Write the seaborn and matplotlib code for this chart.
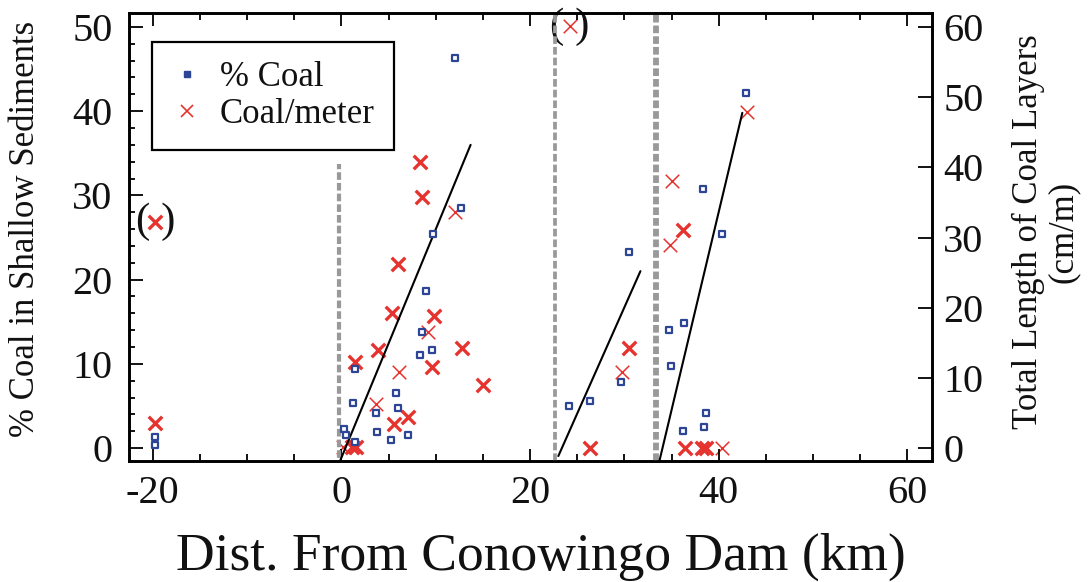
import numpy as np
import pandas as pd
import matplotlib
matplotlib.use("Agg")
import matplotlib.pyplot as plt
from matplotlib.lines import Line2D
from matplotlib.ticker import MultipleLocator
import seaborn as sns

# ---------------- data ----------------
# % Coal in shallow sediments (left axis)
pct_coal_x = [-19.7, -19.7, 12.0, 12.7, 9.75, 9.0, 8.5, 9.6, 8.3, 1.4, 1.25, 5.8, 6.0,
              3.7, 3.8, 5.3, 7.05, 0.3, 0.5, 1.4, 24.1, 26.4, 29.6, 30.5, 34.7, 36.3,
              34.9, 38.3, 40.3, 42.9, 38.6, 38.4, 36.2]
pct_coal_y = [1.35, 0.4, 46.3, 28.5, 25.4, 18.6, 13.8, 11.6, 11.0, 9.4, 5.4, 6.5, 4.8,
              4.2, 1.9, 0.9, 1.5, 2.3, 1.55, 0.7, 5.0, 5.6, 7.9, 23.3, 14.0, 14.9,
              9.7, 30.7, 25.4, 42.1, 4.2, 2.5, 2.05]

# Coal per meter (right axis, cm/m) - heavy crosses
coal_m_x = [-19.7, -19.7, 8.3, 8.6, 6.0, 5.4, 9.8, 12.8, 3.9, 1.5, 9.6, 15.0, 7.05, 5.6,
            1.1, 1.6, 26.4, 30.5, 36.2, 36.4, 38.2, 38.6]
coal_m_y = [32.2, 3.5, 40.8, 35.8, 26.2, 19.3, 18.8, 14.3, 14.0, 12.2, 11.5, 9.0, 4.4, 3.4,
            0.2, 0.1, 0.05, 14.3, 31.1, 0.0, 0.0, 0.0]
# Coal per meter - light crosses
coal_m2_x = [12.1, 9.2, 6.1, 3.7, 0.2, 24.2, 29.8, 35.0, 34.8, 43.0, 40.3]
coal_m2_y = [33.7, 16.6, 10.9, 6.3, 0.2, 60.1, 10.9, 38.0, 28.9, 47.9, 0.0]

# points shown in parentheses: (series, index)
bracketed = [("a", 0), ("b", 5)]

# linear fits per reach (left-axis units)
fit_seg = [1, 1, 2, 2, 3, 3]
fit_x = [-0.14, 13.7, 23.0, 31.7, 33.7, 42.5]
fit_y = [-1.55, 36.0, -0.95, 21.0, -1.6, 39.8]

# reach dividers (km) and their upper extent (left-axis units, None = full height)
divider_x = [-0.2, 22.6, 33.3]
divider_top = [33.7, None, None]

x_ticks = [-20, 0, 20, 40, 60]
yl_ticks = [0, 10, 20, 30, 40, 50]
yr_ticks = [0, 10, 20, 30, 40, 50, 60]

# ---------------- style ----------------
sns.set_style("ticks")
plt.rcParams["font.family"] = ["Liberation Serif", "DejaVu Serif"]
plt.rcParams["axes.unicode_minus"] = False
plt.rcParams["lines.scale_dashes"] = False
for k in ["text.color", "axes.labelcolor", "xtick.color", "ytick.color",
          "xtick.labelcolor", "ytick.labelcolor"]:
    plt.rcParams[k] = "#111111"

RED = "#e5332f"
BLUE = "#2c4595"
GRAY = "#999999"

fig = plt.figure(figsize=(10.89, 5.82), dpi=100)
ax = fig.add_axes([0.1185, 0.2079, 0.7373, 0.7698])
ax2 = ax.twinx()

df_pct = pd.DataFrame({"x": pct_coal_x, "y": pct_coal_y})
df_m = pd.DataFrame({"x": coal_m_x, "y": coal_m_y})
df_m2 = pd.DataFrame({"x": coal_m2_x, "y": coal_m2_y})
df_fit = pd.DataFrame({"seg": fit_seg, "x": fit_x, "y": fit_y})

# dividers
dash = (5.5, 2.2)
widths = [3.0, 2.7, 4.2]
for xv, top, w in zip(divider_x, divider_top, widths):
    if top is None:
        ax.axvline(xv, color=GRAY, lw=w, dashes=dash, zorder=1)
    else:
        ax.plot([xv, xv], [-5, top], color=GRAY, lw=w, dashes=dash, zorder=1)

# fit lines
for s, g in df_fit.groupby("seg"):
    sns.lineplot(data=g, x="x", y="y", ax=ax, color="black", lw=1.5,
                 estimator=None, sort=False, legend=False, zorder=3)

# blue squares
sns.scatterplot(data=df_pct, x="x", y="y", ax=ax, marker="s", s=17,
                color="white", edgecolor=BLUE, linewidth=1.6, zorder=4, legend=False)

# red crosses on right axis
sns.scatterplot(data=df_m, x="x", y="y", ax=ax2, marker="x", s=95,
                color=RED, linewidth=2.4, zorder=4, legend=False)
sns.scatterplot(data=df_m2, x="x", y="y", ax=ax2, marker="x", s=95,
                color=RED, linewidth=1.1, zorder=4, legend=False)

for series, i in bracketed:
    xs, ys = (coal_m_x, coal_m_y) if series == "a" else (coal_m2_x, coal_m2_y)
    ax2.text(xs[i], ys[i], "( )", ha="center", va="center", fontsize=31, color="#111111")

# axes limits / ticks
ax.set_xlim(-22.5, 62.6)
ax.set_ylim(-1.54, 51.66)
ax2.set_ylim(-1.85, 62.0)

ax.set_xticks(x_ticks)
ax.xaxis.set_minor_locator(MultipleLocator(5))
ax.set_yticks(yl_ticks)
ax.yaxis.set_minor_locator(MultipleLocator(2))
ax2.set_yticks(yr_ticks)
ax2.yaxis.set_minor_locator(plt.NullLocator())

ax.tick_params(axis="x", which="both", direction="in", top=True, bottom=True,
               width=1.3, color="black")
ax.tick_params(axis="x", which="major", length=9, labelsize=29, pad=10)
ax.tick_params(axis="x", which="minor", length=5)
ax.tick_params(axis="y", which="both", direction="in", left=True, right=False,
               width=1.3, color="black")
ax.tick_params(axis="y", which="major", length=10, labelsize=29, pad=12)
ax.tick_params(axis="y", which="minor", length=4.5)
ax2.tick_params(axis="y", which="major", direction="in", length=10, width=1.3,
                labelsize=29, pad=8, color="black")

for a in (ax, ax2):
    for sp in a.spines.values():
        sp.set_visible(True)
        sp.set_linewidth(1.9)
        sp.set_color("black")
        sp.set_zorder(10)

ax.set_xlabel("Dist. From Conowingo Dam (km)", fontsize=38.5)
ax.xaxis.label.set_va("baseline")
ax.xaxis.set_label_coords(0.513, -0.243)

ax.set_ylabel("% Coal in Shallow Sediments", fontsize=25)
ax.yaxis.label.set_va("center")
ax.yaxis.set_label_coords(-0.1295, 0.518)

ax2.set_ylabel("Total Length of Coal Layers\n(cm/m)", fontsize=25, rotation=90,
               linespacing=1.05)
ax2.yaxis.label.set_va("center")
ax2.yaxis.label.set_ha("center")
ax2.yaxis.label.set_rotation_mode("anchor")
ax2.yaxis.set_label_coords(1.142, 0.511)

handles = [Line2D([], [], ls="", marker="s", markersize=5, color=BLUE),
           Line2D([], [], ls="", marker="x", markersize=8, color=RED, mew=1.2)]
leg = ax.legend(handles, ["% Coal", "Coal/meter"], loc="upper left",
                bbox_to_anchor=(0.0286, 0.935), borderaxespad=0, fontsize=25,
                frameon=True, fancybox=False, framealpha=1, edgecolor="black",
                borderpad=0.55, handlelength=0.9, handletextpad=0.5, labelspacing=0.1)
leg.get_frame().set_linewidth(1.6)
leg.set_zorder(20)
ax.set_zorder(ax2.get_zorder() + 1)
ax.patch.set_visible(False)

fig.savefig("out.png", dpi=100)
